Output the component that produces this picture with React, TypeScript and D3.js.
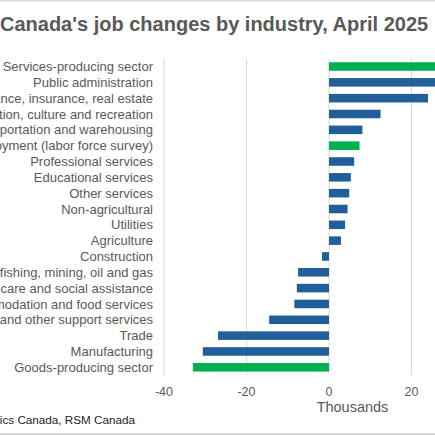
import { useEffect, useRef } from "react";
import * as d3 from "d3";

// categories top to bottom
const industries = [
  "Services-producing sector",
  "Public administration",
  "Finance, insurance, real estate",
  "Information, culture and recreation",
  "Transportation and warehousing",
  "Total employment (labor force survey)",
  "Professional services",
  "Educational services",
  "Other services",
  "Non-agricultural",
  "Utilities",
  "Agriculture",
  "Construction",
  "Forestry, fishing, mining, oil and gas",
  "Health care and social assistance",
  "Accommodation and food services",
  "Business, building and other support services",
  "Trade",
  "Manufacturing",
  "Goods-producing sector",
];

// change in thousands
const changes = [
  40.4, 37.0, 24.0, 12.5, 8.1, 7.4, 6.1, 5.3, 4.9, 4.5, 3.9, 2.9, -1.7, -7.5,
  -7.8, -8.4, -14.5, -26.9, -30.6, -33.0,
];

// aggregate rows shown in green
const totals = [
  "Services-producing sector",
  "Total employment (labor force survey)",
  "Goods-producing sector",
];

const xTicks = [-40, -20, 0, 20, 40];

const title = "Canada's job changes by industry, April 2025";
const source = "Source: Statistics Canada, RSM Canada";

const Chart = () => {
  const chartRef = useRef(null);

  useEffect(() => {
    d3.select(chartRef.current).select("svg").remove();

    const width = 435;
    const height = 435;
    const font = "Arial, 'Liberation Sans', sans-serif";

    const data = industries.map((name, i) => ({ name, value: changes[i] }));

    const svg = d3
      .select(chartRef.current)
      .append("svg")
      .attr("width", width)
      .attr("height", height)
      .style("display", "block")
      .style("font-family", font);

    svg.append("rect").attr("width", width).attr("height", height).attr("fill", "#fff");

    // frame lines top and bottom
    svg.append("rect").attr("x", 0).attr("y", 0).attr("width", width).attr("height", 1.5).attr("fill", "#d9d9d9");
    svg.append("rect").attr("x", 0).attr("y", 433).attr("width", width).attr("height", 2).attr("fill", "#d9d9d9");

    const xScale = d3.scaleLinear().domain([-40, 40]).range([164, 494]);
    const yScale = d3
      .scaleBand()
      .domain(industries)
      .range([58.6, 375.2])
      .paddingInner(0.46)
      .paddingOuter(0.23);

    // title
    svg
      .append("text")
      .attr("x", 0)
      .attr("y", 31)
      .attr("fill", "#595959")
      .attr("font-size", "20px")
      .attr("font-weight", "bold")
      .text(title);

    // vertical gridlines
    svg
      .append("g")
      .selectAll("line")
      .data(xTicks)
      .join("line")
      .attr("x1", (d) => xScale(d))
      .attr("x2", (d) => xScale(d))
      .attr("y1", 58.6)
      .attr("y2", 375.2)
      .attr("stroke", "#d9d9d9")
      .attr("stroke-width", 1);

    // bars
    svg
      .append("g")
      .selectAll("rect")
      .data(data)
      .join("rect")
      .attr("x", (d) => xScale(Math.min(0, d.value)))
      .attr("y", (d) => yScale(d.name) as number)
      .attr("width", (d) => Math.abs(xScale(d.value) - xScale(0)))
      .attr("height", yScale.bandwidth())
      .attr("fill", (d) => (totals.includes(d.name) ? "#00b050" : "#215f9a"));

    // category labels
    svg
      .append("g")
      .selectAll("text")
      .data(data)
      .join("text")
      .attr("x", 153)
      .attr("y", (d) => (yScale(d.name) as number) + yScale.bandwidth() / 2 + 4.6)
      .attr("text-anchor", "end")
      .attr("fill", "#595959")
      .attr("font-size", "13px")
      .text((d) => d.name);

    // x tick labels
    svg
      .append("g")
      .selectAll("text")
      .data(xTicks)
      .join("text")
      .attr("x", (d) => xScale(d))
      .attr("y", 396)
      .attr("text-anchor", "middle")
      .attr("fill", "#595959")
      .attr("font-size", "12.5px")
      .text((d) => d3.format("d")(d).replace("−", "-"));

    svg
      .append("text")
      .attr("x", 352.5)
      .attr("y", 411.5)
      .attr("text-anchor", "middle")
      .attr("fill", "#595959")
      .attr("font-size", "14.5px")
      .text("Thousands");

    svg
      .append("text")
      .attr("x", 135)
      .attr("y", 424)
      .attr("text-anchor", "end")
      .attr("fill", "#222")
      .attr("font-size", "11.7px")
      .text(source);

    return () => {
      d3.select(chartRef.current).select("svg").remove();
    };
  }, []);

  return (
    <div
      ref={chartRef}
      style={{ position: "absolute", left: 0, top: 0, width: 435, height: 435 }}
    ></div>
  );
};

export default function App() {
  return <Chart />;
}
